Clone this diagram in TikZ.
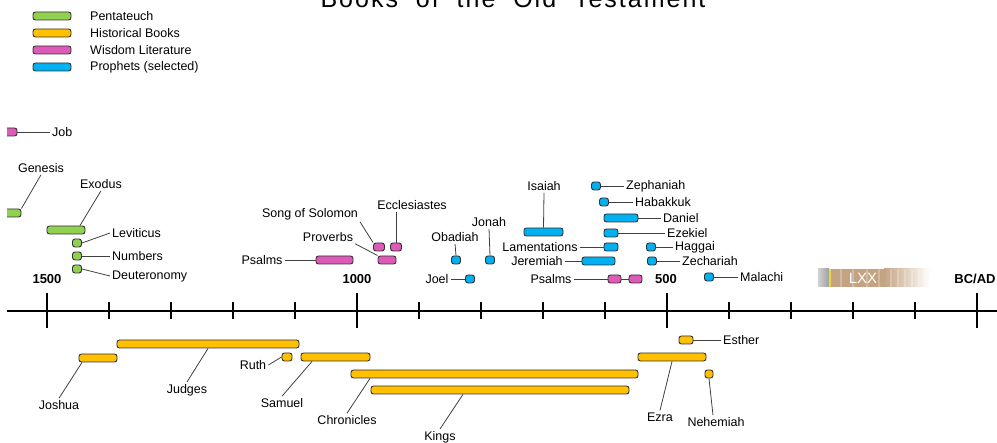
\documentclass[tikz,border=0pt]{standalone}
\usepackage{fontspec}
\setmainfont{Liberation Sans}
\newfontfamily\titlefont[LetterSpace=8]{Liberation Sans}
\definecolor{pentgreen}{HTML}{92D050}
\definecolor{histgold}{HTML}{FFC000}
\definecolor{wisdompink}{HTML}{DE5AB8}
\definecolor{prophetblue}{HTML}{00B0F0}
\definecolor{lxxtan}{HTML}{C4A382}
\tikzset{
  bookbar/.style={draw=black!80,line width=0.9pt,rounded corners=2.5pt,minimum height=8pt,inner sep=0pt},
  pent/.style={bookbar,fill=pentgreen},
  hist/.style={bookbar,fill=histgold},
  wis/.style={bookbar,fill=wisdompink},
  proph/.style={bookbar,fill=prophetblue},
  booklabel/.style={font=\fontsize{12.5}{14}\selectfont,inner sep=2pt},
  yearlabel/.style={font=\fontsize{13}{15}\selectfont\bfseries,inner sep=1pt},
  leader/.style={draw=black!75,line width=0.8pt},
}
\begin{document}
\begin{tikzpicture}[x=1pt,y=-1pt,line join=bevel]
\useasboundingbox (0,0) rectangle (997,443);
%%
\node (title) at (513,8) [anchor=base,inner sep=0pt,font=\titlefont\fontsize{25}{28}\selectfont] {Books\ \ of\ \ the\ \ Old\ \ Testament};
%
\node (keyPent) at (52,16) [pent,minimum width=38pt] {};
\node (keyHist) at (52,33) [hist,minimum width=38pt] {};
\node (keyWis) at (52,50) [wis,minimum width=38pt] {};
\node (keyProph) at (52,67) [proph,minimum width=38pt] {};
\node (keyPentL) at (88,16) [booklabel,anchor=west] {Pentateuch};
\node (keyHistL) at (88,33) [booklabel,anchor=west] {Historical Books};
\node (keyWisL) at (88,50) [booklabel,anchor=west] {Wisdom Literature};
\node (keyPropL) at (88,67) [booklabel,anchor=west] {Prophets (selected)};
%
\begin{scope}
  \clip (7,-20) rectangle (1000,460);
  \draw [line width=2.6pt] (0,311) -- (1000,311);
  \node (job) at (6,132) [wis,minimum width=22pt] {};
  \node (genesis) at (8,213) [pent,minimum width=26pt] {};
\end{scope}
\foreach \x in {47,357,667,977}
  \draw [line width=2.2pt] (\x,293) -- (\x,328);
\foreach \x in {109,171,233,295,419,481,543,605,729,791,853,915}
  \draw [line width=1.1pt] (\x,302) -- (\x,319);
\node (y1500) at (47,279) [yearlabel] {1500};
\node (y1000) at (357,279) [yearlabel] {1000};
\node (y500) at (666,279) [yearlabel] {500};
\node (bcad) at (975,279) [yearlabel] {BC/AD};
%
\shade [left color=gray!35,right color=gray!75] (818,269) rectangle (829,287);
\fill [yellow!60!lxxtan] (829,269) rectangle (831,287);
\fill [lxxtan] (831,269) rectangle (884,287);
\shade [left color=lxxtan,right color=white] (884,269) rectangle (930,287);
\foreach \x in {840,852,866,878,890,897,904,911,918,924}
  \fill [white,opacity=0.25] (\x,269) rectangle (\x+1.5,287);
\node (lxx) at (863,278) [text=white,inner sep=0pt,font=\fontsize{15}{16}\selectfont] {LXX};
%
\node (genesisL) at (41,168) [booklabel] {Genesis};
\node (exodus) at (66,230) [pent,minimum width=38pt] {};
\node (exodusL) at (101,184) [booklabel] {Exodus};
\node (levit) at (77,243) [pent,minimum width=9pt] {};
\node (levitL) at (110,233) [booklabel,anchor=west] {Leviticus};
\node (numbers) at (77,256) [pent,minimum width=9pt] {};
\node (numbersL) at (110,256) [booklabel,anchor=west] {Numbers};
\node (deut) at (77,269) [pent,minimum width=9pt] {};
\node (deutL) at (110,276) [booklabel,anchor=west] {Deuteronomy};
\draw [leader] (genesis.north east) -- (genesisL.south);
\draw [leader] ([xshift=14pt]exodus.north) -- (exodusL.south);
\draw [leader] (levit.east) -- (levitL.west);
\draw [leader] (numbers.east) -- (numbersL.west);
\draw [leader] (deut.east) -- (deutL.west);
%
\node (jobL) at (50,132) [booklabel,anchor=west] {Job};
\node (song) at (379,247) [wis,minimum width=11pt] {};
\node (songL) at (310,214) [booklabel] {Song of Solomon};
\node (eccl) at (396,247) [wis,minimum width=11pt] {};
\node (ecclL) at (412,205) [booklabel] {Ecclesiastes};
\node (prov) at (387,260) [wis,minimum width=18pt] {};
\node (provL) at (328,237) [booklabel] {Proverbs};
\node (psalmsA) at (334.5,260) [wis,minimum width=37pt] {};
\node (psalmsAL) at (262,260) [booklabel] {Psalms};
\node (psalmsB) at (614.5,279) [wis,minimum width=13pt] {};
\node (psalmsC) at (635.5,279) [wis,minimum width=13pt] {};
\node (psalmsBL) at (551,279) [booklabel] {Psalms};
\draw [leader] (job.east) -- (jobL.west);
\draw [leader] (songL.south east) -- (song.north west);
\draw [leader] (eccl.north) -- (eccl.north |- ecclL.south);
\draw [leader] (provL.south east) -- (prov.north west);
\draw [leader] (psalmsAL.east) -- (psalmsA.west);
\draw [leader] (psalmsBL.east) -- (psalmsB.west);
\draw [leader] (psalmsB.east) -- (psalmsC.west);
%
\node (isaiah) at (543.5,232) [proph,minimum width=39pt] {};
\node (isaiahL) at (544,186) [booklabel] {Isaiah};
\node (obadiah) at (456,260) [proph,minimum width=9pt] {};
\node (obadiahL) at (455,237) [booklabel] {Obadiah};
\node (jonah) at (490,260) [proph,minimum width=9pt] {};
\node (jonahL) at (489,222) [booklabel] {Jonah};
\node (joel) at (470,279) [proph,minimum width=9pt] {};
\node (joelL) at (437,279) [booklabel] {Joel};
\node (lament) at (611,247) [proph,minimum width=14pt] {};
\node (lamentL) at (540,247) [booklabel] {Lamentations};
\node (jerem) at (598.5,261) [proph,minimum width=33pt] {};
\node (jeremL) at (537,261) [booklabel] {Jeremiah};
\node (zeph) at (596,186) [proph,minimum width=9pt] {};
\node (zephL) at (624,186) [booklabel,anchor=west] {Zephaniah};
\node (habak) at (604,202) [proph,minimum width=9pt] {};
\node (habakL) at (633,202) [booklabel,anchor=west] {Habakkuk};
\node (daniel) at (621,218) [proph,minimum width=34pt] {};
\node (danielL) at (661,218) [booklabel,anchor=west] {Daniel};
\node (ezekiel) at (611,233) [proph,minimum width=14pt] {};
\node (ezekielL) at (665,233) [booklabel,anchor=west] {Ezekiel};
\node (haggai) at (651,247) [proph,minimum width=9pt] {};
\node (haggaiL) at (673,247) [booklabel,anchor=west] {Haggai};
\node (zech) at (652,261) [proph,minimum width=9pt] {};
\node (zechL) at (680,261) [booklabel,anchor=west] {Zechariah};
\node (malachi) at (709,277) [proph,minimum width=9pt] {};
\node (malachiL) at (738,277) [booklabel,anchor=west] {Malachi};
\draw [leader] (isaiahL.south) -- (isaiah.north);
\draw [leader] (obadiahL.south) -- (obadiah.north);
\draw [leader] (jonahL.south) -- (jonah.north);
\draw [leader] (joelL.east) -- (joel.west);
\draw [leader] (lamentL.east) -- (lament.west);
\draw [leader] (jeremL.east) -- (jerem.west);
\draw [leader] (zeph.east) -- (zephL.west);
\draw [leader] (habak.east) -- (habakL.west);
\draw [leader] (daniel.east) -- (danielL.west);
\draw [leader] (ezekiel.east) -- (ezekielL.west);
\draw [leader] (haggai.east) -- (haggaiL.west);
\draw [leader] (zech.east) -- (zechL.west);
\draw [leader] (malachi.east) -- (malachiL.west);
%
\node (joshua) at (98,358) [hist,minimum width=38pt] {};
\node (joshuaL) at (59,405) [booklabel] {Joshua};
\node (judges) at (208,344) [hist,minimum width=182pt] {};
\node (judgesL) at (187,390) [booklabel] {Judges};
\node (ruth) at (287,357) [hist,minimum width=10pt] {};
\node (ruthL) at (253,365) [booklabel] {Ruth};
\node (samuel) at (335.5,357) [hist,minimum width=69pt] {};
\node (samuelL) at (282,403) [booklabel] {Samuel};
\node (chron) at (494.5,374) [hist,minimum width=287pt] {};
\node (chronL) at (347,420) [booklabel] {Chronicles};
\node (kings) at (500,390) [hist,minimum width=258pt] {};
\node (kingsL) at (440,437) [booklabel] {Kings};
\node (esther) at (686,340) [hist,minimum width=14pt] {};
\node (estherL) at (721,340) [booklabel,anchor=west] {Esther};
\node (ezra) at (672,357) [hist,minimum width=68pt] {};
\node (ezraL) at (660,417) [booklabel] {Ezra};
\node (nehem) at (709,374) [hist,minimum width=8pt] {};
\node (nehemL) at (716,422) [booklabel] {Nehemiah};
\draw [leader] ([xshift=-16pt]joshua.south) -- (joshuaL.north);
\draw [leader] (judges.south) -- (judgesL.north);
\draw [leader] (ruthL.east) -- (ruth.west);
\draw [leader] ([xshift=-23.5pt]samuel.south) -- (samuelL.north);
\draw [leader] ([xshift=-124.5pt]chron.south) -- (chronL.north);
\draw [leader] ([xshift=-37pt]kings.south) -- (kingsL.north);
\draw [leader] (esther.east) -- (estherL.west);
\draw [leader] (ezra.south) -- (ezraL.north);
\draw [leader] (nehem.south) -- ([xshift=-3pt]nehemL.north);
%
\end{tikzpicture}
\end{document}
